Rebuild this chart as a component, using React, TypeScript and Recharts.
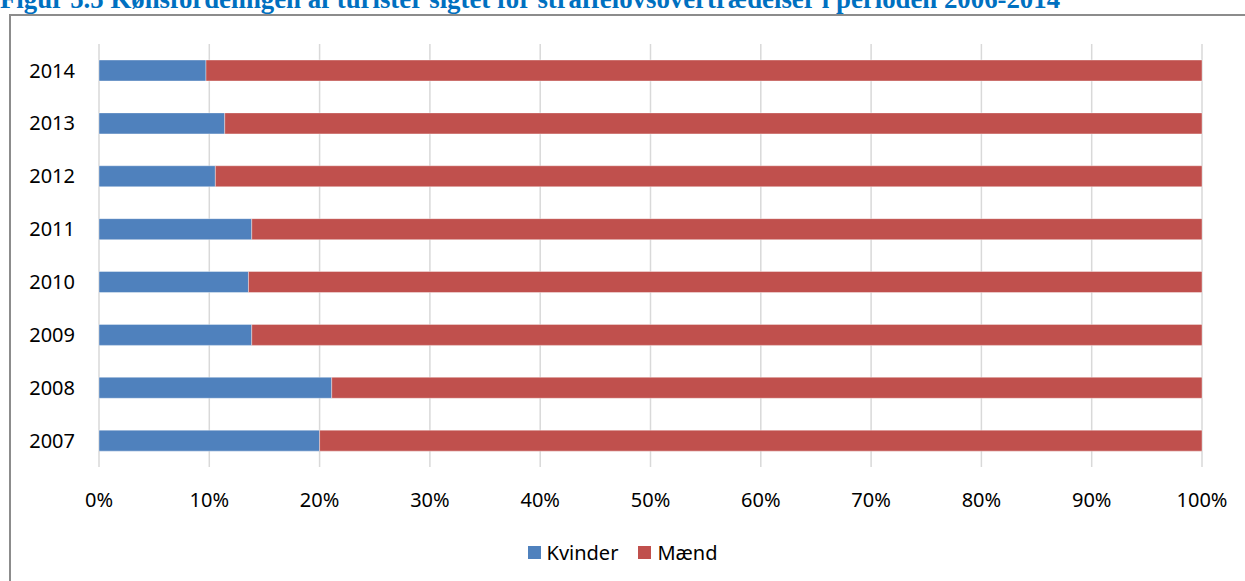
import { BarChart, Bar, XAxis, YAxis, CartesianGrid, Legend } from 'recharts';

const years = ['2007', '2008', '2009', '2010', '2011', '2012', '2013', '2014'];
const kvinder = [20.0, 21.1, 13.85, 13.55, 13.85, 10.55, 11.4, 9.7];
const maend = [80.0, 78.9, 86.15, 86.45, 86.15, 89.45, 88.6, 90.3];
const xTicks = [0, 10, 20, 30, 40, 50, 60, 70, 80, 90, 100];

const TITLE = 'Figur 5.5 Kønsfordelingen af turister sigtet for straffelovsovertrædelser i perioden 2006-2014';

const data = years.map((year, i) => ({ year, Kvinder: kvinder[i], Mænd: maend[i] }));

const FONT = '"Noto Sans", sans-serif';

const renderLegend = (props: any) => {
  const items = props.payload || [];
  return (
    <div style={{ display: 'flex', justifyContent: 'center', alignItems: 'center', height: 26, fontFamily: FONT, fontSize: 20, color: '#000' }}>
      {items.map((it: any, i: number) => (
        <div key={`leg-${i}`} style={{ display: 'flex', alignItems: 'center', marginRight: i === 0 ? 20 : 0 }}>
          <span style={{ width: 13, height: 13, background: it.color, display: 'inline-block', marginRight: 6 }} />
          <span>{it.value}</span>
        </div>
      ))}
    </div>
  );
};

export default function App() {
  return (
    <div style={{ position: 'absolute', left: 0, top: 0, width: 1245, height: 581, overflow: 'hidden', background: '#fff' }}>
      <div style={{
        position: 'absolute',
        left: 0,
        top: -14.5,
        whiteSpace: 'nowrap',
        fontFamily: '"Liberation Serif", serif',
        fontWeight: 'bold',
        fontSize: 26.8,
        lineHeight: '27px',
        color: '#0070C0'
      }}>{TITLE}</div>
      <div style={{ position: 'absolute', left: 9, top: 14, width: 1300, height: 700, border: '2px solid #8c8c8c', boxSizing: 'border-box' }} />
      <div style={{ position: 'absolute', left: 0, top: 0 }}>
        <BarChart
          width={1245}
          height={581}
          data={data}
          layout="vertical"
          margin={{ top: 44, right: 43, left: 0, bottom: 28 }}
          barSize={21}
        >
          <CartesianGrid horizontal={false} stroke="#d9d9d9" strokeWidth={1.5} />
          <XAxis
            type="number"
            domain={[0, 100]}
            ticks={xTicks}
            tickFormatter={(v: number) => `${v}%`}
            axisLine={false}
            tickLine={false}
            tickSize={0}
            tickMargin={26}
            height={60}
            tick={{ fill: '#000', fontSize: 20, fontFamily: FONT }}
            interval={0}
          />
          <YAxis
            type="category"
            dataKey="year"
            reversed
            width={99}
            axisLine={false}
            tickLine={false}
            tickSize={0}
            tickMargin={24}
            tick={{ fill: '#000', fontSize: 20, fontFamily: FONT }}
          />
          <Legend content={renderLegend} verticalAlign="bottom" wrapperStyle={{ top: 539, left: 0, width: 1245 }} />
          <Bar dataKey="Kvinder" stackId="a" fill="#4F81BD" stroke="#ffffff" strokeOpacity={0.5} strokeWidth={0.75} isAnimationActive={false} />
          <Bar dataKey="Mænd" stackId="a" fill="#C0504D" stroke="#ffffff" strokeOpacity={0.5} strokeWidth={0.75} isAnimationActive={false} />
        </BarChart>
      </div>
    </div>
  );
}
